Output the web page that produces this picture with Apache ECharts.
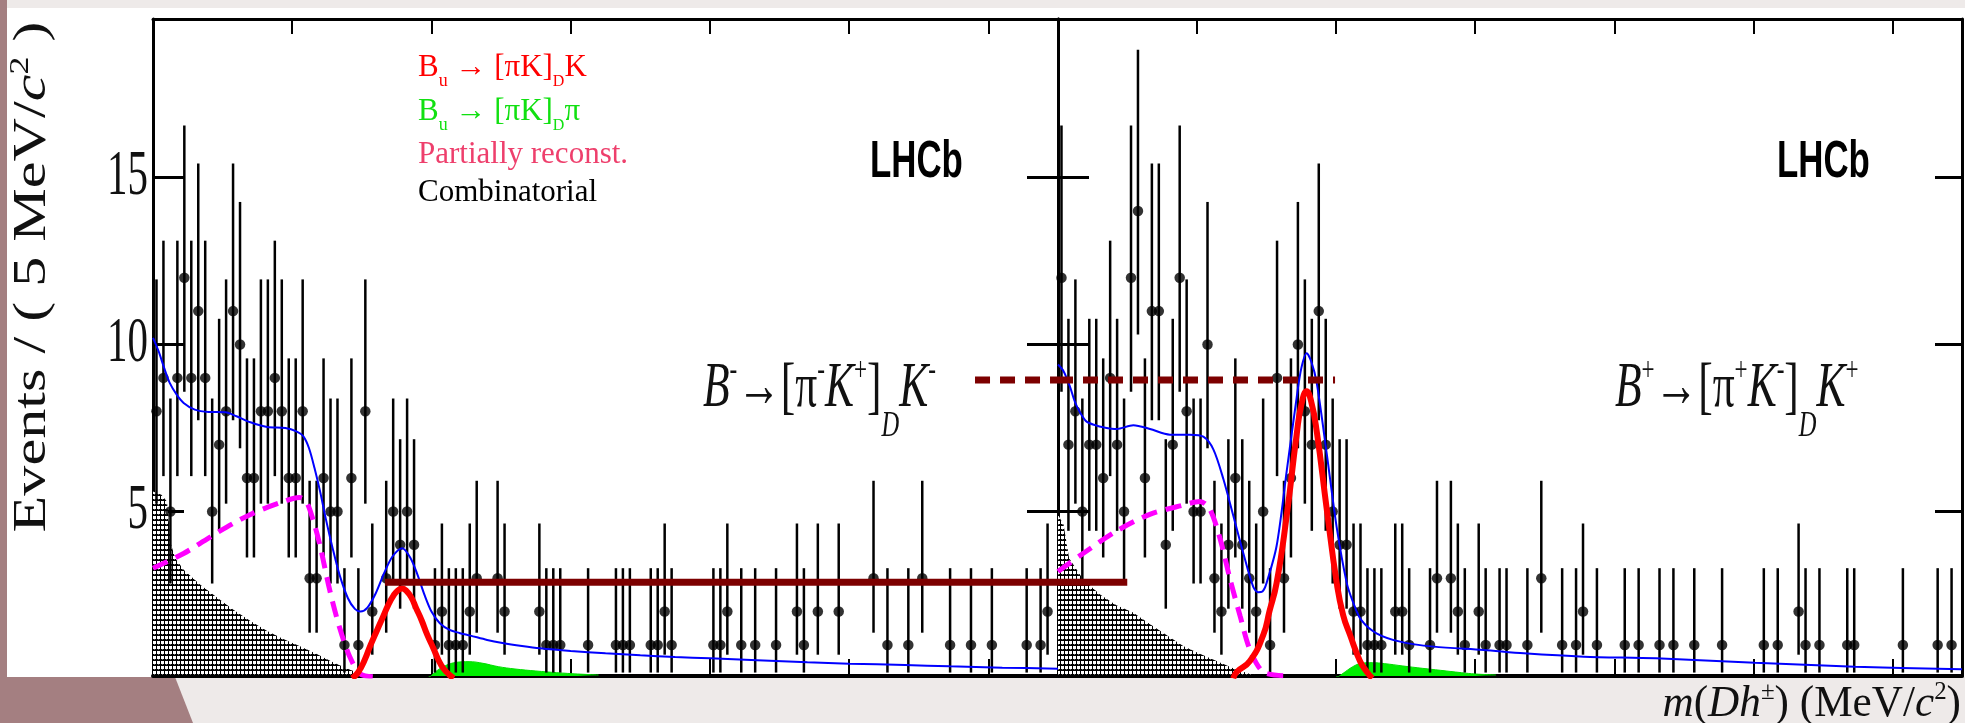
<!DOCTYPE html>
<html><head><meta charset="utf-8">
<script src="https://cdn.jsdelivr.net/npm/echarts@6/dist/echarts.min.js"></script>
<style>
html,body{margin:0;padding:0;width:1965px;height:723px;overflow:hidden;background:#eeeae9;}
#bgL{position:absolute;left:0;top:0;width:7px;height:723px;background:#a47f81;}
#bgB{position:absolute;left:0;top:677px;width:200px;height:46px;background:#a47f81;clip-path:polygon(0 0,175px 0,193px 46px,0 46px);}
#white{position:absolute;left:7px;top:8px;width:1958px;height:669px;background:#fff;}
#chart{position:absolute;left:0;top:0;width:1965px;height:723px;}
</style></head><body>
<div id="bgL"></div><div id="bgB"></div><div id="white"></div>
<div id="chart"></div>
<script>
// ---------------- data ----------------
const massMin = 5100, massMax = 5750, binWidth = 5;
const yMin = 0.07, yMax = 19.75;
const yTickValues = [5, 10, 15];
const yTickLabels = ['5', '10', '15'];

// B- candidates, events per 5 MeV bin (130 bins, 0 = empty bin, not drawn)
const countsMinus = [
 8,9,5,9,12,9,11,9,5,7,
 8,11,10,6,6,8,8,9,8,6,
 6,8,3,3,6,5,5,1,6,1,
 8,2,0,3,5,4,5,4,0,0,
 1,2,1,1,1,2,3,0,0,3,
 2,0,0,0,0,2,1,1,1,0,
 0,0,1,0,0,0,1,1,1,0,
 0,1,1,2,1,0,0,0,0,0,
 1,1,2,0,1,0,1,0,0,1,
 0,0,2,1,0,2,0,0,2,0,
 0,0,0,3,0,1,0,0,1,0,
 3,0,0,0,1,0,0,1,0,0,
 1,0,0,0,0,1,0,1,2,0];
// B+ candidates
const countsPlus = [
 12,7,8,5,7,7,6,9,7,5,
 12,14,6,11,11,4,7,12,8,5,
 5,10,3,2,4,6,4,3,2,5,
 1,9,3,6,10,8,7,11,7,5,
 4,4,2,2,1,1,1,0,2,2,
 1,0,0,1,3,0,3,2,1,0,
 2,1,0,1,1,0,0,1,0,3,
 0,0,1,0,1,2,0,1,0,0,
 0,1,0,1,0,0,1,0,1,0,
 0,1,0,0,0,1,0,0,0,0,
 0,1,0,1,0,0,2,1,0,1,
 0,0,0,1,1,0,0,0,0,0,
 0,1,0,0,0,0,1,0,1,0];
// 68% Poisson interval bounds indexed by count
const poissonLow  = [0, 0.173, 0.708, 1.367, 2.086, 2.840, 3.620, 4.419, 5.232, 6.057, 6.891, 7.734, 8.585, 9.441, 10.30, 11.17, 12.04, 12.92];
const poissonHigh = [1.841, 3.300, 4.638, 5.918, 7.163, 8.382, 9.584, 10.77, 11.95, 13.11, 14.27, 15.42, 16.56, 17.70, 18.83, 19.96, 21.08, 22.20];

// fit components, B- panel
const totalMinus = [[5100,10.2],[5104,9.8],[5108,9.3],[5112,8.85],[5117,8.5],[5122,8.25],[5130,8.05],[5140,7.98],[5152,7.97],[5160,7.85],[5170,7.67],[5182,7.53],[5195,7.5],[5203,7.4],[5208,7.25],[5212,6.9],[5216,6.3],[5220,5.6],[5224,4.8],[5229,3.9],[5234,3.1],[5240,2.4],[5245,2.08],[5249,2.0],[5254,2.12],[5260,2.55],[5266,3.15],[5272,3.65],[5279,3.9],[5285,3.6],[5290,3.1],[5295,2.5],[5300,2.0],[5306,1.65],[5313,1.45],[5320,1.36],[5328,1.28],[5340,1.15],[5351,1.06],[5365,0.97],[5378,0.9],[5400,0.82],[5425,0.75],[5450,0.69],[5475,0.64],[5500,0.6],[5534,0.54],[5570,0.48],[5600,0.44],[5640,0.4],[5672,0.36],[5710,0.32],[5750,0.29]];
const signalMinus = [[5243,0.0],[5247.5,0.19],[5252,0.55],[5256,0.97],[5261,1.45],[5265.4,1.86],[5269,2.2],[5272.6,2.47],[5276,2.64],[5279,2.69],[5282,2.62],[5285.7,2.41],[5289,2.1],[5292.9,1.74],[5297,1.3],[5301.3,0.91],[5305,0.55],[5308.5,0.3],[5313,0.1],[5316,0.0]];
const partRecoMinus = [[5100,3.3],[5122,3.74],[5146,4.36],[5170,4.91],[5194,5.3],[5205,5.42],[5210,5.3],[5215,4.74],[5220,3.97],[5227,2.63],[5234,1.52],[5241.5,0.63],[5249,0.13],[5260,0.04]];
const hatchMinus = [[5100,5.6],[5106,5.5],[5110,5.3],[5113,4.0],[5116,3.6],[5122,3.25],[5134,2.8],[5146,2.42],[5158,2.05],[5170,1.72],[5182,1.42],[5194,1.17],[5206,0.95],[5218,0.72],[5230,0.47],[5242,0.25],[5252,0.1],[5262,0.02]];
const misIdMinus = [[5298,0.0],[5303,0.2],[5310,0.38],[5318,0.48],[5327,0.5],[5337,0.45],[5348,0.35],[5360,0.28],[5375,0.22],[5390,0.17],[5405,0.13],[5420,0.1]];

// fit components, B+ panel
const totalPlus = [[5100,9.4],[5104,9.2],[5108.6,8.74],[5112,8.3],[5115.8,7.97],[5120.6,7.69],[5127,7.58],[5132.6,7.52],[5142.2,7.47],[5154.2,7.58],[5166.1,7.47],[5180.5,7.3],[5194.9,7.3],[5204.5,7.24],[5211.7,6.86],[5218.9,5.97],[5226.1,4.86],[5233.3,3.74],[5240.4,2.74],[5244,2.58],[5247,2.6],[5250,2.86],[5257.2,3.97],[5264.4,6.19],[5271.6,8.41],[5275,9.3],[5278.8,9.74],[5282,9.5],[5286,8.86],[5293.2,6.74],[5300.4,4.52],[5307.6,2.86],[5312,2.3],[5318,1.75],[5329,1.35],[5346,1.1],[5370,0.95],[5406,0.85],[5435,0.75],[5478,0.65],[5530,0.6],[5601,0.47],[5673,0.35],[5750,0.27]];
const signalPlus = [[5226,0.0],[5228.5,0.19],[5238,0.52],[5247.6,1.3],[5252,2.0],[5257.2,2.86],[5264.4,4.86],[5271.6,7.3],[5275,8.2],[5278.8,8.6],[5282,8.3],[5286,7.41],[5293.2,5.08],[5300.4,2.86],[5305,1.9],[5310,1.3],[5317.1,0.52],[5322,0.2],[5326,0.0]];
const partRecoPlus = [[5100,3.2],[5118,3.74],[5142,4.41],[5166,4.91],[5190,5.19],[5202,5.3],[5209,5.08],[5216.5,4.19],[5223.7,2.97],[5231,1.86],[5238,0.86],[5247.6,0.19],[5262,0.08]];
const hatchPlus = [[5100,4.9],[5104,4.6],[5108,3.6],[5118,2.97],[5130,2.52],[5142,2.19],[5154,1.97],[5166,1.63],[5178,1.3],[5190,0.97],[5202,0.74],[5214,0.52],[5226,0.3],[5238,0.13],[5250,0.03]];
const misIdPlus = [[5300,0.0],[5305,0.15],[5312,0.35],[5318,0.45],[5326,0.47],[5335,0.44],[5348,0.37],[5362,0.3],[5375,0.24],[5390,0.17],[5400,0.13],[5415,0.1]];

// overlaid comparison lines (height markers)
const solidMarkLeft  = [[5266.6,2.88],[5750,2.88]];
const solidMarkRight = [[5100,2.88],[5149.8,2.88]];
const dashMarkLeft   = [[5690.4,8.94],[5750,8.94]];
const dashMarkRight  = [[5100,8.94],[5299.2,8.94]];

// ---------------- build ----------------
function buildHist(counts){
  const pts=[], bars=[];
  counts.forEach((n,i)=>{ if(n>0){ const x=massMin+(i+0.5)*binWidth; pts.push([x,n]); bars.push([x,poissonLow[n],poissonHigh[n]]); }});
  return {pts,bars};
}
const hm = buildHist(countsMinus), hp = buildHist(countsPlus);

function dotPattern(){
  const c=document.createElement('canvas'); c.width=4; c.height=5;
  const ctx=c.getContext('2d'); ctx.fillStyle='#000'; ctx.fillRect(0,0,4,5);
  ctx.fillStyle='#fff'; ctx.fillRect(1,1,3,3); ctx.fillStyle='#666'; ctx.fillRect(2,4,1,1); return c;
}
const pat = dotPattern();

const xBase = {type:'value', min:massMin, max:massMax, interval:100,
  axisLabel:{show:false}, splitLine:{show:false},
  axisLine:{show:true,onZero:false,lineStyle:{color:'#000',width:3}},
  axisTick:{show:true,inside:true,length:15,lineStyle:{color:'#000',width:2}}};
const yBase = {type:'value', min:yMin, max:yMax,
  axisLabel:{show:false}, splitLine:{show:false},
  axisLine:{show:true,onZero:false,lineStyle:{color:'#000',width:3}},
  axisTick:{show:true,inside:true,length:31,customValues:yTickValues,lineStyle:{color:'#000',width:3}}};

function errSeries(bars, xi, yi){
  return {type:'custom', xAxisIndex:xi, yAxisIndex:yi, data:bars, encode:{x:0,y:[1,2]}, z:3,
    renderItem:(params,api)=>{
      const a=api.coord([api.value(0),api.value(1)]), b=api.coord([api.value(0),api.value(2)]);
      return {type:'line', shape:{x1:a[0],y1:a[1],x2:b[0],y2:b[1]}, style:{stroke:'#000',lineWidth:2.5}};
    }};
}
function panelSeries(h, total, sig, part, hatch, misid, xi, yi){
  return [
    {type:'line', xAxisIndex:xi, yAxisIndex:yi, data:hatch, showSymbol:false, symbol:'none', z:2,
      lineStyle:{width:0}, areaStyle:{color:{image:pat,repeat:'repeat'},opacity:1,origin:'start'}},
    {type:'line', xAxisIndex:xi, yAxisIndex:yi, data:misid, smooth:0.4, symbol:'none', z:2,
      lineStyle:{width:1,color:'#00dd00'}, areaStyle:{color:'#00ee00',opacity:1,origin:'start'}},
    errSeries(h.bars, xi, yi),
    {type:'scatter', xAxisIndex:xi, yAxisIndex:yi, data:h.pts, symbol:'circle', symbolSize:10.5, itemStyle:{color:'#000'}, z:4},
    {type:'line', xAxisIndex:xi, yAxisIndex:yi, data:part, smooth:0.3, symbol:'none', z:5,
      lineStyle:{color:'#ff00ff',width:5,type:[16,9]}},
    {type:'line', xAxisIndex:xi, yAxisIndex:yi, data:sig, smooth:0.5, symbol:'none', z:6,
      lineStyle:{color:'#ff0000',width:6}},
    {type:'line', xAxisIndex:xi, yAxisIndex:yi, data:total, smooth:0.3, symbol:'none', z:7,
      lineStyle:{color:'#0000ff',width:2}}
  ];
}
function markSeries(data, xi, yi, dashed){
  return {type:'line', xAxisIndex:xi, yAxisIndex:yi, data:data, symbol:'none', z:9, clip:false,
    lineStyle:{color:'#7d0000',width:7,type:dashed?[15,10]:'solid',cap:'butt'}};
}

const bottomX = {axisLine:{show:true,onZero:false,lineStyle:{color:'#000',width:4}},axisTick:{show:true,inside:true,length:17,lineStyle:{color:'#000',width:2}}};
const option = {
  animation:false,
  backgroundColor:'transparent',
  grid:[{left:153,top:19,width:905,height:657},{left:1058,top:19,width:904,height:657}],
  xAxis:[
    Object.assign({},xBase,bottomX,{gridIndex:0,position:'bottom'}),
    Object.assign({},xBase,{gridIndex:0,position:'top'}),
    Object.assign({},xBase,bottomX,{gridIndex:1,position:'bottom'}),
    Object.assign({},xBase,{gridIndex:1,position:'top'})
  ],
  yAxis:[
    Object.assign({},yBase,{gridIndex:0,position:'left'}),
    Object.assign({},yBase,{gridIndex:0,position:'right'}),
    Object.assign({},yBase,{gridIndex:1,position:'left'}),
    Object.assign({},yBase,{gridIndex:1,position:'right',axisTick:{show:true,inside:true,length:27,customValues:yTickValues,lineStyle:{color:'#000',width:3}}})
  ],
  series:[].concat(
    panelSeries(hm,totalMinus,signalMinus,partRecoMinus,hatchMinus,misIdMinus,0,0),
    panelSeries(hp,totalPlus,signalPlus,partRecoPlus,hatchPlus,misIdPlus,2,2),
    [markSeries(solidMarkLeft,0,0,false),markSeries(solidMarkRight,2,2,false),
     markSeries(dashMarkLeft,0,0,true),markSeries(dashMarkRight,2,2,true)]
  )
};

const chart = echarts.init(document.getElementById('chart'));
chart.setOption(option);

// ---------------- texts ----------------
const SERIF='"Liberation Serif","Times New Roman",serif';
const SANS='"Liberation Sans",Arial,sans-serif';
const K_MID = 0.3375; // canvas "middle" offset above alphabetic baseline, per em
const mctx=document.createElement('canvas').getContext('2d');
function textWidth(t,size,fam,style,weight){ mctx.font=(style||'normal')+' '+(weight||'normal')+' '+size+'px '+fam; return mctx.measureText(t).width; }
// a line of text made of pieces sharing one baseline (sub/superscripts via dy)
function textLine(pieces, o){
  let cx=0; const ch=[];
  pieces.forEach(p=>{
    const w=textWidth(p.t,p.size,o.fam,p.style,p.weight);
    ch.push({type:'text', x:cx, y:(p.dy||0)-K_MID*p.size, z:100,
      style:{text:p.t, fontFamily:o.fam, fontSize:p.size, fontStyle:p.style||'normal', fontWeight:p.weight||'normal',
        fill:o.color||'#111', align:'left', textAlign:'left', verticalAlign:'middle', textVerticalAlign:'middle'}});
    cx+=w;
  });
  if(o.align==='right') ch.forEach(c=>c.x-=cx); else if(o.align==='center') ch.forEach(c=>c.x-=cx/2);
  return {type:'group', x:o.x, y:o.y, scaleX:o.scaleX||1, rotation:o.rotation||0, z:100, children:ch};
}
const g=[];
// y tick labels
yTickValues.forEach((v,k)=>{
  const py=chart.convertToPixel({yAxisIndex:0},v);
  g.push({type:'text',x:148,y:py,scaleX:0.64,z:100,
    style:{text:yTickLabels[k],fontFamily:SERIF,fontSize:64,fill:'#111',
      align:'right',textAlign:'right',verticalAlign:'middle',textVerticalAlign:'middle'}});
});
// y axis title (rotated, baseline on the right)
g.push(textLine([{t:'Events / ( 5 MeV/',size:47},{t:'c',size:47,style:'italic'},{t:'2',size:28,dy:-19},{t:' )',size:47}],
  {x:49,y:277,rotation:Math.PI/2,scaleX:1.28,align:'center',fam:SERIF,color:'#111'}));
// x axis title
g.push(textLine([{t:'m',size:45,style:'italic'},{t:'(',size:45},{t:'Dh',size:45,style:'italic'},{t:'±',size:26,dy:-18},
  {t:') (MeV/',size:45},{t:'c',size:45,style:'italic'},{t:'2',size:26,dy:-18},{t:')',size:45}],
  {x:1961,y:719,scaleX:0.96,align:'right',fam:SERIF,color:'#111'}));
// LHCb
[870,1777].forEach(x=>g.push(textLine([{t:'LHCb',size:52,weight:'bold'}],{x:x,y:180,scaleX:0.67,fam:SANS,color:'#000'})));
// decay labels
const sup=(t)=>({t:t,size:34,dy:-28});
g.push(textLine([{t:'B',size:64,style:'italic'},sup('-'),{t:'→[π',size:64},sup('-'),{t:'K',size:64,style:'italic'},sup('+'),
  {t:']',size:64},{t:'D',size:36,style:'italic',dy:28},{t:'K',size:64,style:'italic'},sup('-')],
  {x:703,y:411,scaleX:0.68,fam:SERIF,color:'#111'}));
g.push(textLine([{t:'B',size:64,style:'italic'},sup('+'),{t:'→[π',size:64},sup('+'),{t:'K',size:64,style:'italic'},sup('-'),
  {t:']',size:64},{t:'D',size:36,style:'italic',dy:28},{t:'K',size:64,style:'italic'},sup('+')],
  {x:1615,y:411,scaleX:0.68,fam:SERIF,color:'#111'}));
// legend
const sub=(t,s)=>({t:t,size:s,dy:9});
const legend=[
  {y:78, color:'#ff0000', pieces:[{t:'B',size:31},sub('u',18),{t:' → [πK]',size:31},sub('D',16),{t:'K',size:31}]},
  {y:122,color:'#11e011', pieces:[{t:'B',size:31},sub('u',18),{t:' → [πK]',size:31},sub('D',16),{t:'π',size:31}]},
  {y:165,color:'#ee3f6c', pieces:[{t:'Partially reconst.',size:31}]},
  {y:203,color:'#000000', pieces:[{t:'Combinatorial',size:31}]}
];
legend.forEach(l=>g.push(textLine(l.pieces,{x:418,y:l.y,fam:SERIF,color:l.color})));

chart.setOption({graphic:g});
</script></body></html>
